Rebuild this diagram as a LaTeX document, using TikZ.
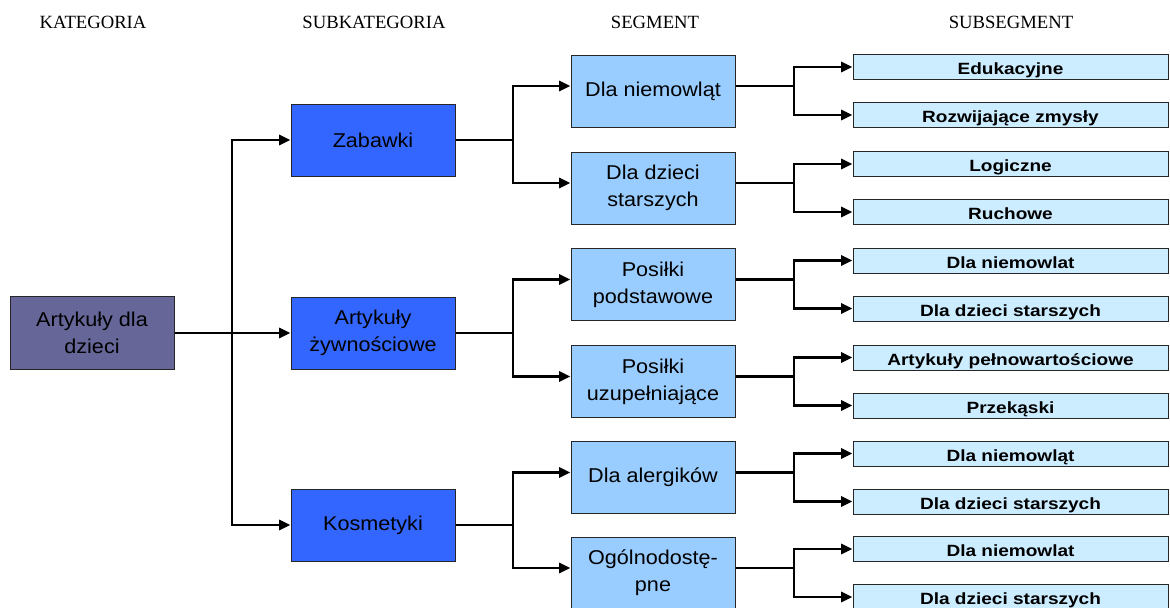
\documentclass[tikz,border=0pt]{standalone}
\usepackage{fontspec}
\setmainfont{Liberation Serif}
\newfontfamily\boxfont[FakeStretch=1.08]{Liberation Sans}
\newfontfamily\subfont[FakeStretch=1.17]{Liberation Sans Bold}
\usetikzlibrary{arrows.meta}

\definecolor{rootcol}{HTML}{666699}
\definecolor{catcol}{HTML}{3366FF}
\definecolor{segcol}{HTML}{99CCFF}
\definecolor{subcol}{HTML}{CCECFF}

\tikzset{
  box/.style={draw=black!85, line width=0.75pt, inner sep=2pt, align=center,
    font=\boxfont\fontsize{15}{20}\selectfont},
  rootbox/.style={box, fill=rootcol, minimum width=123pt, minimum height=54.75pt},
  catbox/.style={box, fill=catcol, minimum width=123pt, minimum height=54pt},
  segbox/.style={box, fill=segcol, minimum width=123pt, minimum height=54pt},
  subbox/.style={draw=black!85, line width=0.75pt, fill=subcol, inner sep=1pt,
    text height=11.5pt, text depth=0pt,
    minimum width=236.25pt, minimum height=18.75pt,
    font=\subfont\fontsize{12.2}{14}\selectfont},
  head/.style={font=\fontsize{14}{16}\selectfont},
  link/.style={line width=2pt, black},
  arr/.style={link, -{Triangle[length=8.5pt,width=7.5pt]}}
}

\begin{document}
\begin{tikzpicture}[x=0.75pt, y=-0.75pt]
\useasboundingbox (0,0) rectangle (1170,607);

% headers
\node[head] (h1) at (93,22) {KATEGORIA};
\node[head] (h2) at (374,22) {SUBKATEGORIA};
\node[head] (h3) at (655,22) {SEGMENT};
\node[head] (h4) at (1011,22) {SUBSEGMENT};

% category
\node[rootbox] (art) at (92,333) {Artykuły dla\\dzieci};

% subcategories
\node[catbox] (zab) at (373,140) {Zabawki};
\node[catbox] (zyw) at (373,333) {Artykuły\\żywnościowe};
\node[catbox] (kos) at (373,525) {Kosmetyki};

% segments
\node[segbox] (s1) at (653,91) {Dla niemowląt};
\node[segbox] (s2) at (653,188) {Dla dzieci\\starszych};
\node[segbox] (s3) at (653,284.5) {Posiłki\\podstawowe};
\node[segbox] (s4) at (653,381.5) {Posiłki\\uzupełniające};
\node[segbox] (s5) at (653,477.5) {Dla alergików};
\node[segbox] (s6) at (653,573) {Ogólnodostę-\\pne};

% subsegments
\node[subbox] (u1) at (1010.5,67) {Edukacyjne};
\node[subbox] (u2) at (1010.5,115) {Rozwijające zmysły};
\node[subbox] (u3) at (1010.5,164) {Logiczne};
\node[subbox] (u4) at (1010.5,212) {Ruchowe};
\node[subbox] (u5) at (1010.5,260.5) {Dla niemowlat};
\node[subbox] (u6) at (1010.5,308.5) {Dla dzieci starszych};
\node[subbox] (u7) at (1010.5,357.5) {Artykuły pełnowartościowe};
\node[subbox] (u8) at (1010.5,405.5) {Przekąski};
\node[subbox] (u9) at (1010.5,453.5) {Dla niemowląt};
\node[subbox] (u10) at (1010.5,501.5) {Dla dzieci starszych};
\node[subbox] (u11) at (1010.5,549) {Dla niemowlat};
\node[subbox] (u12) at (1010.5,597) {Dla dzieci starszych};

% category -> subcategories
\coordinate (t0) at (232,333);
\draw[arr] (art) -- (zyw);
\draw[arr] (t0) |- (zab);
\draw[arr] (t0) |- (kos);

% subcategories -> segments
\coordinate (t1) at (513,140);
\coordinate (t2) at (513,333);
\coordinate (t3) at (513,525);
\draw[link] (zab) -- (t1);
\draw[arr] (t1) |- ([yshift=3.75pt]s1.west);
\draw[arr] (t1) |- ([yshift=3.75pt]s2.west);
\draw[link] (zyw) -- (t2);
\draw[arr] (t2) |- ([yshift=3.75pt]s3.west);
\draw[arr] (t2) |- ([yshift=3.75pt]s4.west);
\draw[link] (kos) -- (t3);
\draw[arr] (t3) |- ([yshift=3.75pt]s5.west);
\draw[arr] (t3) |- ([yshift=3.75pt]s6.west);

% segments -> subsegments
\coordinate (k1) at (794,86);
\coordinate (k2) at (794,183);
\coordinate (k3) at (794,279.5);
\coordinate (k4) at (794,376.5);
\coordinate (k5) at (794,472.5);
\coordinate (k6) at (794,568);
\draw[link] ([yshift=3.75pt]s1.east) -- (k1);
\draw[arr] (k1) |- (u1);
\draw[arr] (k1) |- (u2);
\draw[link] ([yshift=3.75pt]s2.east) -- (k2);
\draw[arr] (k2) |- (u3);
\draw[arr] (k2) |- (u4);
\draw[link] ([yshift=3.75pt]s3.east) -- (k3);
\draw[arr] (k3) |- (u5);
\draw[arr] (k3) |- (u6);
\draw[link] ([yshift=3.75pt]s4.east) -- (k4);
\draw[arr] (k4) |- (u7);
\draw[arr] (k4) |- (u8);
\draw[link] ([yshift=3.75pt]s5.east) -- (k5);
\draw[arr] (k5) |- (u9);
\draw[arr] (k5) |- (u10);
\draw[link] ([yshift=3.75pt]s6.east) -- (k6);
\draw[arr] (k6) |- (u11);
\draw[arr] (k6) |- (u12);
\end{tikzpicture}
\end{document}
